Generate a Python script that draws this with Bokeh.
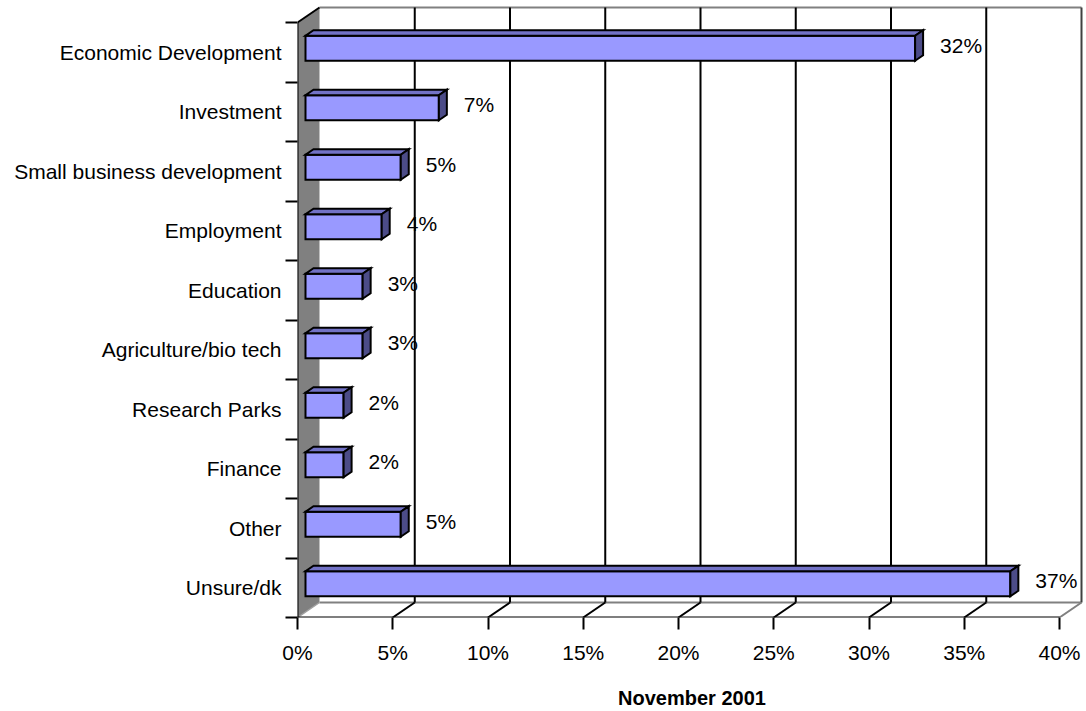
from bokeh.plotting import figure
from bokeh.models import Range1d, FixedTicker
from bokeh.embed import file_html
from bokeh.resources import INLINE
from bokeh.core.properties import value

# ---------------- data ----------------
categories = ["Economic Development", "Investment", "Small business development",
              "Employment", "Education", "Agriculture/bio tech", "Research Parks",
              "Finance", "Other", "Unsure/dk"]
values = [32, 7, 5, 4, 3, 3, 2, 2, 5, 37]
x_ticks = [0, 5, 10, 15, 20, 25, 30, 35, 40]
x_tick_labels = ["0%", "5%", "10%", "15%", "20%", "25%", "30%", "35%", "40%"]
axis_title = "November 2001"

# ---------------- layout ----------------
W, H = 1086, 711
LEFT = 297
AXIS_Y = 617
BOTTOM = H - AXIS_Y
SX = 19.05          # px per percent
SY = 59.5           # px per category band
X_END = (W - LEFT) / SX
Y_END = AXIS_Y / SY
n = len(categories)
XMAX = x_ticks[-1]

DX, DY = 22 / SX, 15 / SY        # depth of the 3D box
FX, FY = 8 / SX, 4 / SY          # offset of bar front face
BX, BY = 8 / SX, 5.5 / SY        # depth of bar
HALF = 12.5 / SY                 # half height of bar front face
FONT = "Liberation Sans"
FS = "21px"

p = figure(width=W, height=H, output_backend="svg", toolbar_location=None,
           x_range=Range1d(0, X_END), y_range=Range1d(0, Y_END),
           min_border_left=LEFT, min_border_right=0, min_border_top=0,
           min_border_bottom=BOTTOM)
p.outline_line_color = None
p.grid.visible = False
p.background_fill_color = "white"
p.border_fill_color = "white"

# left wall
p.patch([0, 0, DX, DX], [0, n, n + DY, DY], fill_color="#808080", line_color=None)
# back wall edges
p.segment(x0=[DX], y0=[n + DY], x1=[XMAX + DX], y1=[n + DY], line_color="#808080", line_width=2)
p.segment(x0=[DX], y0=[DY], x1=[XMAX + DX], y1=[DY], line_color="#808080", line_width=2)
p.segment(x0=[XMAX + DX], y0=[DY], x1=[XMAX + DX], y1=[n + DY], line_color="#404040", line_width=2)
# gridlines on back wall
inner = x_ticks[1:-1]
p.segment(x0=[t + DX for t in inner], y0=[DY] * len(inner),
          x1=[t + DX for t in inner], y1=[n + DY] * len(inner),
          line_color="black", line_width=2)
# floor diagonals
p.segment(x0=inner, y0=[0] * len(inner), x1=[t + DX for t in inner], y1=[DY] * len(inner),
          line_color="black", line_width=2)
p.segment(x0=[XMAX], y0=[0], x1=[XMAX + DX], y1=[DY], line_color="#808080", line_width=2)
p.segment(x0=[0], y0=[0], x1=[DX], y1=[DY], line_color="#a0a0a0", line_width=1.5)
p.segment(x0=[0], y0=[n], x1=[DX], y1=[n + DY], line_color="black", line_width=2)
# front axes lines
p.segment(x0=[0], y0=[0], x1=[XMAX], y1=[0], line_color="black", line_width=2)
p.segment(x0=[0], y0=[0], x1=[0], y1=[n], line_color="black", line_width=2)

# bars
front_xs, front_ys, top_xs, top_ys, side_xs, side_ys = [], [], [], [], [], []
lab_x, lab_y, lab_t = [], [], []
for i, (cat, v) in enumerate(zip(categories, values)):
    c = n - i - 0.5
    x0, x1 = FX, FX + v
    yb, yt = c + FY - HALF, c + FY + HALF
    front_xs.append([x0, x1, x1, x0]); front_ys.append([yb, yb, yt, yt])
    top_xs.append([x0, x1, x1 + BX, x0 + BX]); top_ys.append([yt, yt, yt + BY, yt + BY])
    side_xs.append([x1, x1 + BX, x1 + BX, x1]); side_ys.append([yb, yb + BY, yt + BY, yt])
    lab_x.append(x1 + BX + 17 / SX)
    lab_y.append(c + 7 / SY)
    lab_t.append(f"{v:g}%")

p.patches(front_xs, front_ys, fill_color="#9999FF", line_color="black", line_width=2, line_join="miter")
p.patches(top_xs, top_ys, fill_color="#7272C6", line_color="black", line_width=2, line_join="miter")
p.patches(side_xs, side_ys, fill_color="#4C4C88", line_color="black", line_width=2, line_join="miter")

p.text(x=lab_x, y=lab_y, text=lab_t, text_font=value(FONT), text_font_size=FS,
       text_color="black", text_align="left", text_baseline="middle")

# x axis
xa = p.xaxis[0]
xa.ticker = FixedTicker(ticks=x_ticks)
xa.major_label_overrides = {t: l for t, l in zip(x_ticks, x_tick_labels)}
xa.axis_line_color = None
xa.major_tick_line_color = "black"
xa.major_tick_line_width = 2
xa.major_tick_in = 0
xa.major_tick_out = 12
xa.minor_tick_line_color = None
xa.major_label_standoff = 11
xa.major_label_text_font = FONT
xa.major_label_text_font_size = FS
xa.major_label_text_color = "black"
xa.axis_label = axis_title
xa.axis_label_text_font = FONT
xa.axis_label_text_font_size = "20px"
xa.axis_label_text_font_style = "bold"
xa.axis_label_text_color = "black"
xa.axis_label_standoff = 20

# y axis
ya = p.yaxis[0]
centers = [n - i - 0.5 for i in range(n)]
ya.ticker = FixedTicker(ticks=centers, minor_ticks=list(range(n + 1)))
ya.major_label_overrides = {c: cat for c, cat in zip(centers, categories)}
ya.axis_line_color = None
ya.major_tick_line_color = None
ya.major_tick_in = 0
ya.major_tick_out = 12
ya.minor_tick_line_color = "black"
ya.minor_tick_line_width = 2
ya.minor_tick_in = 0
ya.minor_tick_out = 12
ya.major_label_standoff = 4
ya.major_label_text_font = FONT
ya.major_label_text_font_size = FS
ya.major_label_text_color = "black"

open("out.html", "w").write(file_html(p, INLINE))
